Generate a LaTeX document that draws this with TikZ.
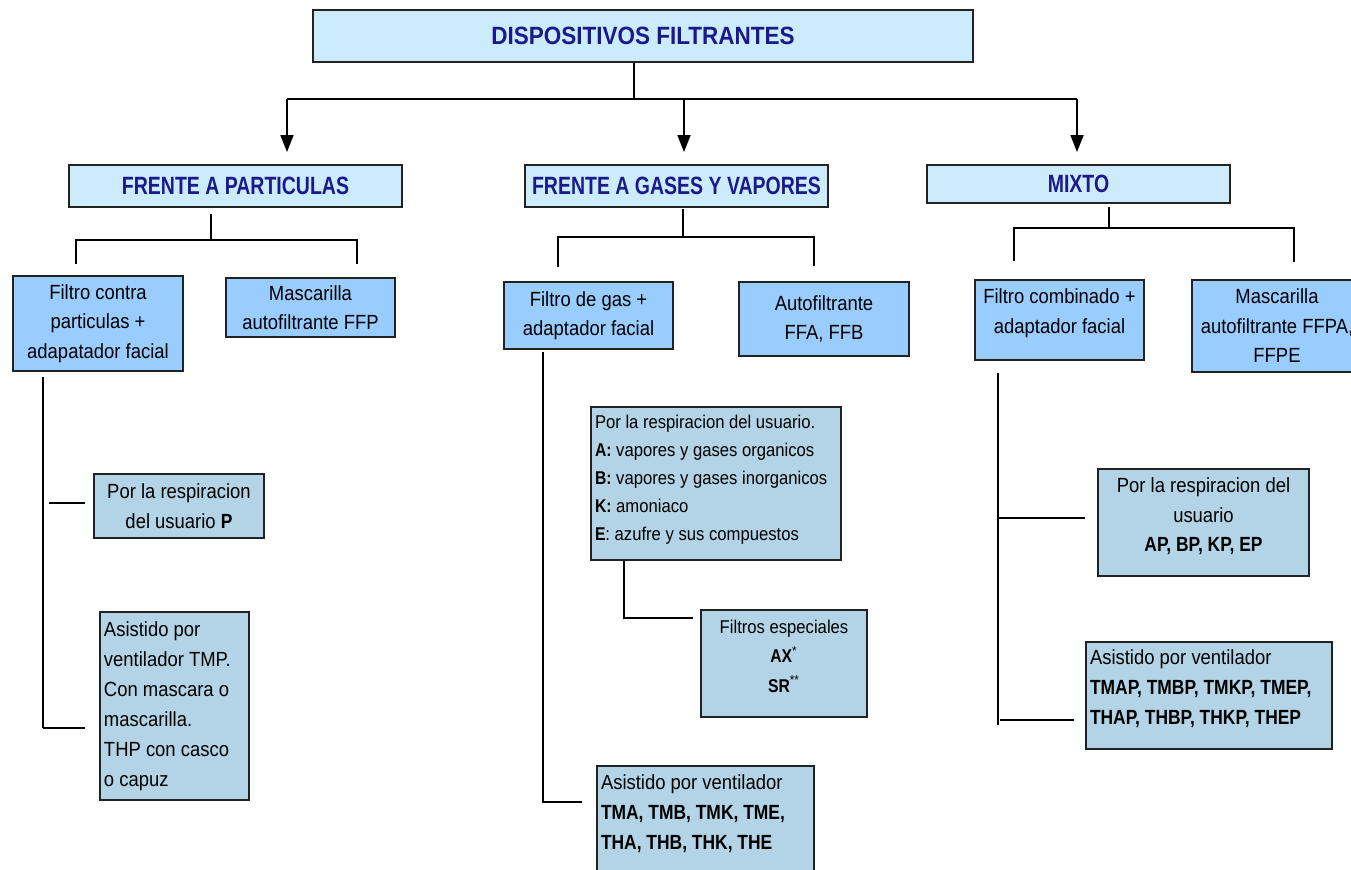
\documentclass[tikz,border=0pt]{standalone}
\usepackage{fontspec}
\setmainfont{Liberation Sans}[FakeStretch=0.9]
\newfontfamily\headfont{Liberation Sans}[FakeStretch=0.78]
\newfontfamily\codefont{Liberation Sans}[FakeStretch=0.85]
\usetikzlibrary{arrows.meta}
\definecolor{headfill}{RGB}{204,236,252}
\definecolor{midfill}{RGB}{153,204,255}
\definecolor{lowfill}{RGB}{178,212,230}
\definecolor{navy}{RGB}{26,26,140}
\definecolor{edge}{RGB}{34,34,34}
\newcommand\cb[1]{{\codefont\bfseries #1}}

\tikzset{
  corners/.style n args={4}{at={({(#1+#3)/2},{(#2+#4)/2})},
    minimum width={(#3-#1)*0.5pt}, minimum height={(#4-#2)*0.5pt}},
  box/.style={draw=edge, line width=0.8pt, inner sep=0pt, anchor=center},
  titlebox/.style={box, fill=headfill, text=navy, font=\bfseries\fontsize{12.5}{15}\selectfont},
  headbox/.style={box, fill=headfill, text=navy, font=\headfont\bfseries\fontsize{12.5}{15}\selectfont},
  midbox/.style={box, fill=midfill, align=center, font=\fontsize{10.25}{14.75}\selectfont},
  lowbox/.style={box, fill=lowfill, align=center, font=\fontsize{10.25}{14.75}\selectfont},
  lowleft/.style={box, fill=lowfill, align=flush left, font=\fontsize{10.25}{15}\selectfont},
  link/.style={draw=black, line width=0.9pt},
  arrowlink/.style={link, -{Triangle[length=8.5pt,width=6.5pt]}},
}

\begin{document}
\begin{tikzpicture}[x=0.5pt,y=-0.5pt]
\useasboundingbox (0,0) rectangle (1351,869);
\clip (0,0) rectangle (1351,869);
\fill[white] (0,0) rectangle (1351,869);

% root
\node[titlebox, corners={313}{10}{973}{62}] (title) {DISPOSITIVOS FILTRANTES};

% first level
\node[headbox, corners={69}{165}{402}{207}] (part) {FRENTE A PARTICULAS};
\node[headbox, corners={525}{165}{828}{207}] (gas) {FRENTE A GASES Y VAPORES};
\node[headbox, corners={927}{165}{1230}{203}] (mix) {MIXTO};

% second level
\node[midbox, corners={13}{276}{183}{371}] (fcp) {Filtro contra\\particulas +\\adapatador facial};
\node[midbox, corners={226}{278}{395}{337}] (mff) {Mascarilla\\autofiltrante FFP};
\node[midbox, corners={504}{282}{673}{349}] (fgas) {Filtro de gas +\\adaptador facial};
\node[midbox, corners={739}{282}{909}{356}] (ffa) {Autofiltrante\\FFA, FFB};
\node[midbox, corners={975}{280}{1144}{360}] (fcomb) {Filtro combinado +\\adaptador facial\\[-6pt]};
\node[midbox, corners={1192}{280}{1362}{372}] (mffpa) {Mascarilla\\autofiltrante FFPA,\\FFPE};

% particle filters
\node[lowbox, corners={94}{474}{264}{538}] (pp) {Por la respiracion\\del usuario \cb{P}};
\node[lowleft, text width=70.5pt, corners={100}{612}{249}{800}] (tmp)
  {Asistido por\\ventilador TMP.\\Con mascara o\\mascarilla.\\THP con casco\\o capuz};

% gas filters
\node[lowleft, text width=121pt, font=\fontsize{9.25}{14}\selectfont, corners={591}{407}{841}{560}] (gasresp)
  {Por la respiracion del usuario.\\\cb{A:} vapores y gases organicos\\\cb{B:} vapores y gases inorganicos\\\cb{K:} amoniaco\\\cb{E}: azufre y sus compuestos\\[-8pt]\mbox{}};
\node[lowbox, font=\fontsize{9.25}{14.75}\selectfont, corners={701}{610}{867}{717}] (fesp)
  {Filtros especiales\\\cb{AX}\textsuperscript{*}\\\cb{SR}\textsuperscript{**}\\[-7.5pt]};
\node[lowleft, text width=104.5pt, corners={597}{766}{814}{892}] (gasvent)
  {Asistido por ventilador\\\cb{TMA, TMB, TMK, TME,}\\\cb{THA, THB, THK, THE}\\[-3pt]\strut};

% combined filters
\node[lowbox, corners={1098}{469}{1309}{576}] (mresp)
  {Por la respiracion del\\usuario\\\cb{AP, BP, KP, EP}\\[-7pt]};
\node[lowleft, text width=119pt, corners={1086}{642}{1332}{749}] (mvent)
  {Asistido por ventilador\\\cb{TMAP, TMBP, TMKP, TMEP,}\\\cb{THAP, THBP, THKP, THEP}\\[-7pt]\mbox{}};

% root to first level
\coordinate (t1) at (634,99);
\coordinate (aP) at (287,152);
\coordinate (aG) at (684,152);
\coordinate (aM) at (1077,152);
\draw[link] (title.south -| t1) -- (t1);
\draw[link] (aP |- t1) -- (aM |- t1);
\foreach \c in {aP,aG,aM} \draw[arrowlink] (\c |- t1) -- (\c);

% first to second level
\coordinate (pS) at (211,214);
\coordinate (pJ) at (211,240);
\coordinate (pL) at (76,264);
\coordinate (pR) at (357,264);
\draw[link] (pS) -- (pJ);
\draw[link] (pL) -- (pL |- pJ) -- (pR |- pJ) -- (pR);

\coordinate (gS) at (683,209);
\coordinate (gJ) at (683,237);
\coordinate (gL) at (558,267);
\coordinate (gR) at (814,266);
\draw[link] (gS) -- (gJ);
\draw[link] (gL) -- (gL |- gJ) -- (gR |- gJ) -- (gR);

\coordinate (mS) at (1109,207);
\coordinate (mJ) at (1109,228);
\coordinate (mL) at (1014,261);
\coordinate (mR) at (1294,262);
\draw[link] (mS) -- (mJ);
\draw[link] (mL) -- (mL |- mJ) -- (mR |- mJ) -- (mR);

% particle branch
\coordinate (pv1) at (43,377);
\coordinate (pv2) at (43,728);
\coordinate (pb1) at (49,503);
\draw[link] (pv1) -- (pv2);
\draw[link, shorten >=4pt] (pb1) -- (pb1 -| pp.west);
\draw[link, shorten >=7pt] (pv2) -- (pv2 -| tmp.west);

% gas branch
\coordinate (gv1) at (543,352);
\coordinate (gv2) at (543,802);
\coordinate (gr) at (624,618);
\draw[link, shorten >=7pt] (gv1) -- (gv2) -- (gv2 -| gasvent.west);
\draw[link, shorten >=3.5pt] (gasresp.south -| gr) -- (gr) -- (gr -| fesp.west);

% combined branch
\coordinate (mv1) at (998,373);
\coordinate (mv2) at (998,725);
\coordinate (mb1) at (998,518);
\coordinate (mb2) at (1000,720);
\draw[link] (mv1) -- (mv2);
\draw[link, shorten >=6pt] (mb1) -- (mb1 -| mresp.west);
\draw[link, shorten >=5.5pt] (mb2) -- (mb2 -| mvent.west);
\end{tikzpicture}
\end{document}
